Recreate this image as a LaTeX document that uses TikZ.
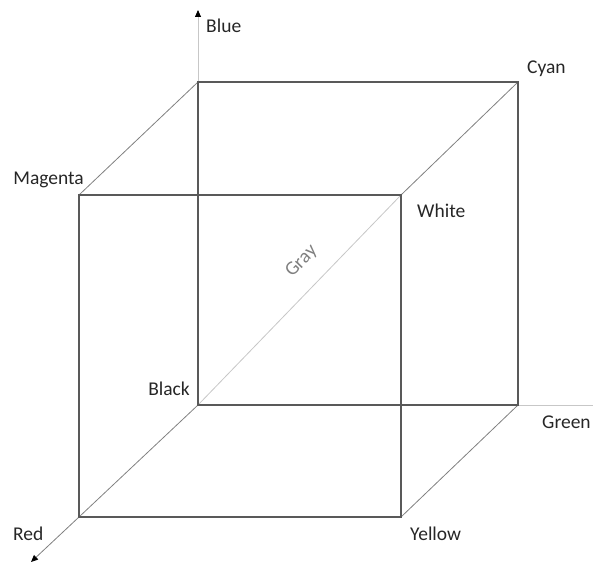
\documentclass[tikz,border=0pt]{standalone}
\usepackage{fontspec}
\setmainfont{Carlito}
\usetikzlibrary{arrows.meta, positioning, calc}

\begin{document}
\begin{tikzpicture}[x=1pt, y=-1pt,
  font=\fontsize{19.5}{23}\selectfont,
  edge/.style={draw=black!65, line width=1.2pt},
  link/.style={draw=black!50, line width=0.8pt},
  axis/.style={draw=black!22, line width=0.8pt},
  axarr/.style={axis, -{Triangle[length=7pt, width=6pt, color=black]}},
  lbl/.style={inner sep=0pt, text=black!85},
]
\useasboundingbox (0,0) rectangle (593,564);
% back face
\coordinate (k) at (198,405);
\coordinate (g) at (518,405);
\coordinate (c) at (518,82);
\coordinate (b) at (198,82);
% front face
\coordinate (r) at (79,517);
\coordinate (y) at (401,517);
\coordinate (w) at (401,195);
\coordinate (m) at (79,195);
% axis ends
\coordinate (bax) at (198,10);
\coordinate (rax) at (31,562);
\coordinate (gax) at (593,405);
% axes
\draw[axarr] (b) -- (bax);
\draw[axis] (g) -- (gax);
\draw[link, -{Triangle[length=7pt, width=6pt, color=black]}] (r) -- (rax);
% gray diagonal
\draw[axis] (k) -- (w) node[pos=0.6, sloped, above=17pt, lbl, text=black!50] (grayl) {Gray};
% connecting edges
\draw[link] (k) -- (r);
\draw[link] (g) -- (y);
\draw[link] (c) -- (w);
\draw[link] (b) -- (m);
% back and front squares
\draw[edge] (k) -- (g) -- (c) -- (b) -- cycle;
\draw[edge] (r) -- (y) -- (w) -- (m) -- cycle;
% labels
\node[lbl, anchor=base west] (bluel) at (206,33) {Blue};
\node[lbl, anchor=base west] (cyanl) at (527,74) {Cyan};
\node[lbl, anchor=base east] (magl) at (84,184) {Magenta};
\node[lbl, anchor=base west] (whitel) at (417,217) {White};
\node[lbl, anchor=base east] (blackl) at (190,395) {Black};
\node[lbl, anchor=base west] (greenl) at (542,428) {Green};
\node[lbl, anchor=base west] (redl) at (13,540) {Red};
\node[lbl, anchor=base west] (yell) at (410,540) {Yellow};
\end{tikzpicture}
\end{document}
